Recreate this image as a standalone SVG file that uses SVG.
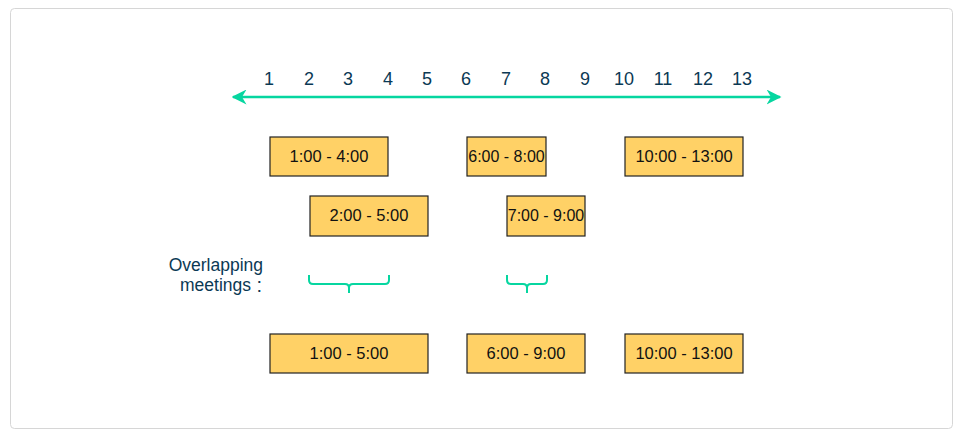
<svg xmlns="http://www.w3.org/2000/svg" width="959" height="437" viewBox="0 0 959 437">
<defs>
<style>
.frame{fill:#fff;stroke:#d6d6d6;stroke-width:1}
.box rect{fill:#FFD166;stroke:#222;stroke-width:1.2}
.box text{font-family:"Liberation Sans",Arial,sans-serif;font-size:16.5px;fill:#111;text-anchor:middle}
.box text.sm{font-size:16px}
.num{font-family:"Liberation Sans",Arial,sans-serif;font-size:18px;fill:#0B3954;text-anchor:middle}
.lbl{font-family:"Liberation Sans",Arial,sans-serif;font-size:17.5px;fill:#0B3954;text-anchor:end}
.conn{fill:none;stroke:#06D6A0;stroke-width:2.5}
.brace{fill:none;stroke:#06D6A0;stroke-width:2}
</style>
<marker id="ah" viewBox="0 0 10 10" refX="9" refY="5" markerWidth="6" markerHeight="6" orient="auto-start-reverse" markerUnits="strokeWidth">
<path d="M0,0 L10,5 L0,10 L3,5 Z" fill="#06D6A0"/>
</marker>
</defs>
<rect class="frame" x="10.5" y="8.5" width="942" height="420" rx="4"/>
<g id="axis-labels">
<text class="num" x="269" y="85">1</text>
<text class="num" x="309" y="85">2</text>
<text class="num" x="348" y="85">3</text>
<text class="num" x="388" y="85">4</text>
<text class="num" x="427" y="85">5</text>
<text class="num" x="466" y="85">6</text>
<text class="num" x="506" y="85">7</text>
<text class="num" x="545" y="85">8</text>
<text class="num" x="585" y="85">9</text>
<text class="num" x="624" y="85">10</text>
<text class="num" x="663" y="85">11</text>
<text class="num" x="703" y="85">12</text>
<text class="num" x="742" y="85">13</text>
</g>
<g id="connectors">
<line class="conn" x1="233" y1="97" x2="780" y2="97" marker-start="url(#ah)" marker-end="url(#ah)"/>
<path class="brace" d="M309,275 V280 Q309,284 313,284 H345 Q349,284 349,288 V293 M349,288 Q349,284 353,284 H385 Q389,284 389,280 V275"/>
<path class="brace" d="M507,275 V280 Q507,284 511,284 H523 Q527,284 527,288 V293 M527,288 Q527,284 531,284 H543 Q547,284 547,280 V275"/>
</g>
<g id="label-overlap">
<text class="lbl" x="263" y="271">Overlapping</text>
<text class="lbl" x="251" y="291">meetings</text>
<text class="lbl" x="262" y="292" style="font-size:20px">:</text>
</g>
<g id="m1" class="box"><rect x="270" y="137" width="118" height="39"/><text x="329" y="162">1:00 - 4:00</text></g>
<g id="m2" class="box"><rect x="467" y="137" width="79" height="39"/><text class="sm" x="506.5" y="162">6:00 - 8:00</text></g>
<g id="m3" class="box"><rect x="625" y="137" width="118" height="39"/><text x="684" y="162">10:00 - 13:00</text></g>
<g id="m4" class="box"><rect x="310" y="196" width="118" height="40"/><text x="369" y="221">2:00 - 5:00</text></g>
<g id="m5" class="box"><rect x="507" y="196" width="78" height="40"/><text class="sm" x="546" y="221">7:00 - 9:00</text></g>
<g id="r1" class="box"><rect x="270" y="334" width="158" height="39"/><text x="349" y="359">1:00 - 5:00</text></g>
<g id="r2" class="box"><rect x="467" y="334" width="118" height="39"/><text x="526" y="359">6:00 - 9:00</text></g>
<g id="r3" class="box"><rect x="625" y="334" width="118" height="39"/><text x="684" y="359">10:00 - 13:00</text></g>
</svg>
